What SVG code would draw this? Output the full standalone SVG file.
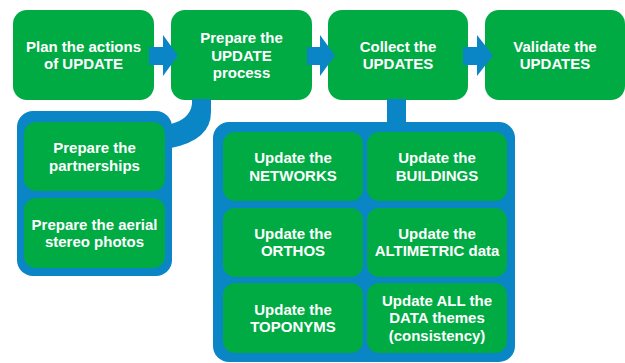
<svg xmlns="http://www.w3.org/2000/svg" width="625" height="363" viewBox="0 0 625 363">
<style>
.box{fill:#00AB44;}
.grp{fill:#0A86C6;}
.con{fill:#0A86C6;}
text{font-family:"Liberation Sans",Arial,sans-serif;font-weight:bold;font-size:15px;fill:#fff;text-anchor:middle;}
</style>
<rect width="625" height="363" fill="#fff"/>
<g id="plan"><rect class="box" x="13" y="10" width="141" height="90" rx="14"/>
<text x="83.5" y="51.6">Plan the actions</text><text x="83.5" y="69.1">of UPDATE</text></g>
<g id="prepare"><rect class="box" x="171" y="10" width="141" height="90" rx="14"/>
<text x="241.5" y="43.4">Prepare the</text><text x="241.5" y="60.9">UPDATE</text><text x="241.5" y="78.4">process</text></g>
<g id="collect"><rect class="box" x="328" y="10" width="140" height="90" rx="14"/>
<text x="398" y="51.6">Collect the</text><text x="398" y="69.1">UPDATES</text></g>
<g id="validate"><rect class="box" x="485" y="10" width="140" height="90" rx="14"/>
<text x="555" y="51.6">Validate the</text><text x="555" y="69.1">UPDATES</text></g>
<g id="prep-group"><rect class="grp" x="17" y="111" width="155" height="165" rx="16"/></g>
<g id="partnerships"><rect class="box" x="24" y="122" width="141" height="69" rx="12"/>
<text x="94.5" y="153.2">Prepare the</text><text x="94.5" y="170.7">partnerships</text></g>
<g id="aerial"><rect class="box" x="24" y="198" width="141" height="70" rx="12"/>
<text x="94.5" y="229.6">Prepare the aerial</text><text x="94.5" y="247.1">stereo photos</text></g>
<g id="collect-group"><rect class="grp" x="213" y="122" width="302" height="240" rx="16"/></g>
<g id="networks"><rect class="box" x="223" y="132" width="140" height="69" rx="12"/>
<text x="293" y="163.2">Update the</text><text x="293" y="180.7">NETWORKS</text></g>
<g id="buildings"><rect class="box" x="367" y="132" width="140" height="69" rx="12"/>
<text x="437" y="163.2">Update the</text><text x="437" y="180.7">BUILDINGS</text></g>
<g id="orthos"><rect class="box" x="223" y="208" width="140" height="69" rx="12"/>
<text x="293" y="238.7">Update the</text><text x="293" y="256.2">ORTHOS</text></g>
<g id="altimetric"><rect class="box" x="367" y="208" width="140" height="69" rx="12"/>
<text x="437" y="238.7">Update the</text><text x="437" y="256.2">ALTIMETRIC data</text></g>
<g id="toponyms"><rect class="box" x="223" y="283" width="140" height="70" rx="12"/>
<text x="293" y="314.6">Update the</text><text x="293" y="332.1">TOPONYMS</text></g>
<g id="all-data"><rect class="box" x="367" y="283" width="140" height="70" rx="12"/>
<text x="437" y="305.9">Update ALL the</text><text x="437" y="323.4">DATA themes</text><text x="437" y="340.9">(consistency)</text></g>
<g id="connectors">
<polygon class="con" points="149,47 163,47 163,35 178,55.5 163,76 163,65 149,65"/>
<polygon class="con" points="307,47 320,47 320,35 335,55.5 320,76 320,65 307,65"/>
<polygon class="con" points="463,47 477,47 477,35 493,55.5 477,76 477,65 463,65"/>
<path class="con" d="M192,99 H211 V112 Q211,140 171,148 V124 Q190,119 192,104 Z"/>
<rect class="con" x="387" y="99" width="19" height="24"/>
</g>
</svg>
